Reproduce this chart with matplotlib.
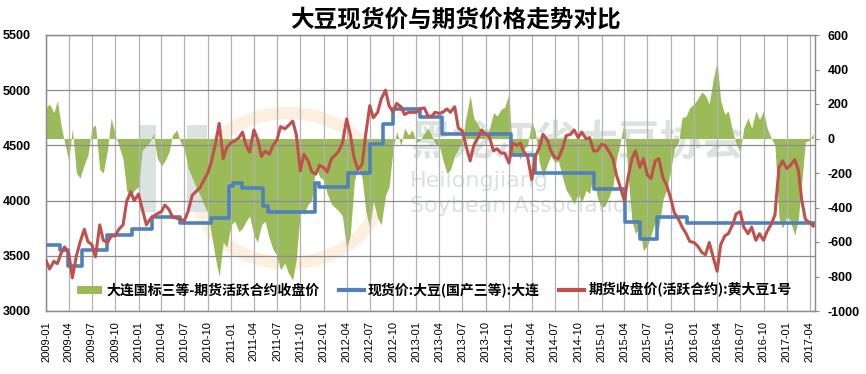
import matplotlib
matplotlib.use("Agg")
import matplotlib.pyplot as plt
from matplotlib.patches import Ellipse, Rectangle, Patch
from matplotlib.lines import Line2D
import pandas as pd

plt.rcParams['font.family'] = ['Noto Sans CJK SC', 'DejaVu Sans']

title = "大豆现货价与期货价格走势对比"
basis_name = "大连国标三等-期货活跃合约收盘价"
spot_name = "现货价:大豆(国产三等):大连"
fut_name = "期货收盘价(活跃合约):黄大豆1号"

# futures close (left axis), read twice a month from 2009-01
futures = [
    3460, 3380, 3450, 3430, 3520, 3580, 3520, 3300, 3500, 3620, 3740, 3630,
    3600, 3490, 3780, 3640, 3620, 3680, 3680, 3740, 3780, 3990, 4080, 4000,  # 2009
    4060, 3930, 3780, 3830, 3860, 3880, 3900, 3960, 3920, 3850, 3840, 3830,
    3820, 3900, 4050, 4080, 4120, 4180, 4250, 4350, 4520, 4700, 4380, 4480,  # 2010
    4525, 4540, 4570, 4620, 4500, 4440, 4640, 4560, 4400, 4450, 4420, 4500,
    4550, 4670, 4650, 4680, 4720, 4600, 4270, 4420, 4360, 4260, 4240, 4320,  # 2011
    4300, 4260, 4380, 4410, 4450, 4520, 4740, 4600, 4380, 4280, 4330, 4600,
    4860, 4750, 4800, 4920, 5000, 4860, 4800, 4880, 4850, 4780, 4800, 4800,  # 2012
    4800, 4830, 4840, 4770, 4760, 4800, 4790, 4800, 4830, 4800, 4850, 4660,
    4630, 4500, 4360, 4500, 4570, 4640, 4600, 4580, 4450, 4470, 4430, 4430,  # 2013
    4340, 4520, 4500, 4520, 4440, 4400, 4190, 4400, 4480, 4600, 4550, 4450,
    4390, 4380, 4480, 4590, 4600, 4640, 4570, 4620, 4560, 4570, 4450, 4450,  # 2014
    4510, 4500, 4440, 4380, 4230, 4130, 4000, 4200, 4380, 4450, 4300, 4380,
    4230, 4200, 4360, 4380, 4200, 4140, 4020, 3890, 3830, 3760, 3700, 3630,  # 2015
    3620, 3590, 3530, 3510, 3620, 3500, 3360, 3600, 3680, 3700, 3780, 3880,
    3900, 3760, 3700, 3760, 3640, 3700, 3640, 3720, 3790, 3870, 4300, 4360,  # 2016
    4290, 4320, 4370, 4280, 4000, 3830, 3800, 3770,                          # 2017
]

# spot minus futures (right axis), same dates
basis = [
    180, 200, 150, 220, 80, -20, -130, 60, -200, -230, -150, -100,
    60, 80, -180, -200, -60, 120, 20, -40, -120, -300, -340, -300,
    -280, -70, -40, -20, 30, -110, -160, -130, -80, 20, 50, -20,
    -60, -170, -230, -280, -330, -380, -430, -550, -700, -800, -600, -630,
    -500, -480, -540, -520, -480, -450, -560, -600, -500, -480, -580, -640,
    -680, -760, -720, -780, -820, -700, -420, -440, -380, -360, -160, -220,
    -240, -320, -380, -400, -420, -450, -640, -560, -250, -160, -230, -420,
    -520, -360, -460, -500, -330, -280, -60, 40, -40, 60, 20, 50,
    -20, -10, 30, 60, 20, -30, -40, -120, -200, -180, -100, -60,
    -20, 120, 250, 120, 80, 40, 10, 50, 150, 130, 170, 180,
    260, -100, -80, -120, -60, -40, 100, 40, -140, -220, -150, -100,
    -140, -130, -230, -300, -340, -380, -320, -370, -300, -320, -200, -340,
    -400, -390, -330, -280, -120, -30, 100, -200, -480, -550, -520, -650,
    -620, -560, -480, -520, -350, -300, -180, -60, -20, 120, 130, 180,
    200, 230, 270, 250, 200, 330, 450, 220, 140, 160, 40, -30,
    -80, 60, 120, 60, 160, 110, 160, 60, 0, -40, -460, -520,
    -450, -480, -560, -470, -250, -20, -10, 30,
]

# spot price changes (step line)
spot_dates = ['2009-01-01', '2009-02-25', '2009-03-28', '2009-05-22', '2009-08-28',
              '2009-12-06', '2010-02-25', '2010-06-15', '2010-10-12', '2010-12-25',
              '2011-01-10', '2011-02-15', '2011-05-06', '2011-05-25', '2011-11-28',
              '2011-12-12', '2012-04-06', '2012-07-01', '2012-08-21', '2012-10-01',
              '2013-01-15', '2013-04-12', '2014-01-10', '2014-04-12', '2014-12-01',
              '2015-04-04', '2015-06-01', '2015-08-06', '2015-12-04', '2017-04-22']
spot_vals = [3600, 3550, 3410, 3555, 3690, 3745, 3850, 3800, 3840, 4130,
             4160, 4115, 3950, 3900, 4160, 4125, 4250, 4510, 4690, 4830,
             4760, 4600, 4410, 4250, 4105, 3810, 3650, 3850, 3800, 3800]

dates = pd.date_range("2009-01-01", periods=len(futures), freq="SMS")
spot_x = pd.to_datetime(spot_dates)

GREEN = '#9BBB59'
BLUE = '#4F81BD'
RED = '#C0504D'
GRID_H = '#8c8c8c'
GRID_V = '#b2b2b2'
WM = '#dae3e0'

W, H = 866, 374
fig = plt.figure(figsize=(W / 100, H / 100), dpi=100)


def fx(x):
    return x / W


def fy(y):
    return 1 - y / H


ax = fig.add_axes([fx(46), fy(311), (815 - 46) / W, (311 - 35) / H])
axb = ax.twinx()
ax.set_zorder(2)
axb.set_zorder(1)
ax.patch.set_visible(False)
axb.patch.set_visible(False)

# watermark behind the area
axb.text(fx(410), fy(143), "黑龙江省大豆协会", transform=fig.transFigure, fontsize=30,
         fontweight='bold', color=WM, va='center', ha='left', zorder=0.2)
axb.text(fx(410), fy(181), "Heilongjiang", transform=fig.transFigure, fontsize=16,
         family='DejaVu Sans', color=WM, va='center', ha='left', zorder=0.2)
axb.text(fx(410), fy(206), "Soybean Association", transform=fig.transFigure, fontsize=16,
         family='DejaVu Sans', color=WM, va='center', ha='left', zorder=0.2)
axb.add_patch(Ellipse((fx(288), fy(188)), 185 / W, 150 / H, transform=fig.transFigure,
                      fill=False, ec='#fdefe0', lw=9, zorder=0.1))
axb.add_patch(Rectangle((fx(140), fy(212)), 16 / W, 87 / H, transform=fig.transFigure,
                        fc=WM, ec='none', zorder=0.15))
axb.add_patch(Rectangle((fx(187), fy(212)), 20 / W, 87 / H, transform=fig.transFigure,
                        fc=WM, ec='none', zorder=0.15))

axb.fill_between(dates, 0, basis, color=GREEN, lw=0, zorder=1)

ax.plot(spot_x, spot_vals, drawstyle='steps-post', color=BLUE, lw=2.6, zorder=3)
ax.plot(dates, futures, color=RED, lw=2.2, zorder=4)

xt = pd.date_range('2009-01-01', '2017-04-01', freq='QS')
ax.set_xlim(pd.Timestamp('2009-01-01'), pd.Timestamp('2017-04-22'))
ax.set_xticks(xt)
ax.set_xticklabels([d.strftime('%Y-%m') for d in xt], rotation=90,
                   family='Liberation Sans', fontsize=8)
ax.tick_params(axis='x', length=0, pad=7.5)

ax.set_ylim(3000, 5500)
ax.set_yticks(range(3000, 5501, 500))
ax.set_yticklabels([str(v) for v in range(3000, 5501, 500)],
                   family='Liberation Sans', fontsize=9, fontweight='bold')
ax.tick_params(axis='y', length=0, pad=11)

axb.set_ylim(-1000, 600)
axb.set_yticks(range(-1000, 601, 200))
axb.set_yticklabels([str(v) for v in range(-1000, 601, 200)],
                    family='Liberation Sans', fontsize=9, fontweight='bold')
axb.tick_params(axis='y', length=3, width=0.8, color=GRID_H, pad=6)

ax.set_axisbelow(True)
ax.grid(axis='y', color=GRID_H, lw=0.9)
ax.grid(axis='x', color=GRID_V, lw=0.9)
for a in (ax, axb):
    for s in a.spines.values():
        s.set_color(GRID_H)
        s.set_linewidth(0.9)

fig.text(fx(455), fy(19), title, ha='center', va='center', fontsize=17, fontweight='bold')

handles = [Patch(fc=GREEN, ec='none'), Line2D([], [], color=BLUE, lw=3),
           Line2D([], [], color=RED, lw=3)]
ax.legend(handles, [basis_name, spot_name, fut_name], ncol=3, loc='center left',
          bbox_to_anchor=(fx(70), fy(290)), bbox_transform=fig.transFigure,
          frameon=False, borderpad=0, handlelength=1.8, handleheight=0.5,
          handletextpad=0.3, columnspacing=1.4,
          prop={'family': ['Noto Sans CJK SC', 'DejaVu Sans'], 'size': 10, 'weight': 'bold'})

fig.savefig('out.png', dpi=100)
